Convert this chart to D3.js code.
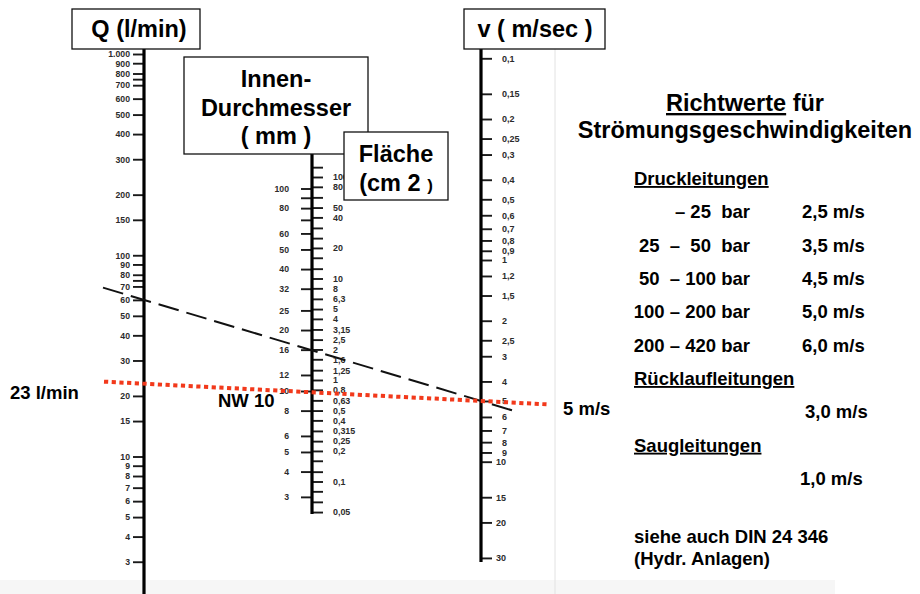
<!DOCTYPE html>
<html><head><meta charset="utf-8">
<script src="https://cdn.jsdelivr.net/npm/d3@7/dist/d3.min.js"></script>
<style>
body{margin:0;background:#fff}
svg{display:block;font-family:"Liberation Sans",Arial,Helvetica,sans-serif}
</style>
</head><body><div id="chart"></div>
<script>
// ---------- DATA ----------
const qTickValues = [1000,900,800,750,700,600,500,400,300,200,150,100,90,80,75,70,60,50,40,30,20,15,10,9,8,7,6,5,4,3];
const qTickLabels = ["1.000","900","800","","700","600","500","400","300","200","150","100","90","80","","70","60","50","40","30","20","15","10","9","8","7","6","5","4","3"];

const dTickValues = [100,90,80,70,60,50,40,32,25,20,16,12,10,8,6,5,4,3];
const dTickLabels = ["100","","80","","60","50","40","32","25","20","16","12","10","8","6","5","4","3"];

const aTickValues = [125,100,80,63,50,40,31.5,25,20,16,12.5,10,8,6.3,5,4,3.15,2.5,2,1.6,1.25,1,0.8,0.63,0.5,0.4,0.315,0.25,0.2,0.16,0.125,0.1,0.08,0.063,0.05];
const aTickLabels = ["","100","80","","50","40","","","20","","","10","8","6,3","5","4","3,15","2,5","2","1,6","1,25","1","0,8","0,63","0,5","0,4","0,315","0,25","0,2","","","0,1","","","0,05"];

const vTickValues = [0.1,0.15,0.2,0.25,0.3,0.4,0.5,0.6,0.7,0.8,0.9,1,1.2,1.5,2,2.5,3,4,5,6,7,8,9,10,15,20,30];
const vTickLabels = ["0,1","0,15","0,2","0,25","0,3","0,4","0,5","0,6","0,7","0,8","0,9","1","1,2","1,5","2","2,5","3","4","5","6","7","8","9","10","15","20","30"];

// example readings (Q in l/min, v in m/s)
const exampleDashedQ = 60, exampleDashedV = 5;
const exampleRedQ = 23, exampleRedV = 5;

const axisTitles = ["Q (l/min)", "v ( m/sec )"];
const diameterTitle = ["Innen-", "Durchmesser", "( mm )"];
const areaTitle = ["Fläche", "(cm 2 "];

const headingLines = ["Richtwerte", " für", "Strömungsgeschwindigkeiten"];
const pressureRanges = ["– 25  bar", "25  –  50  bar", "50  – 100 bar", "100 – 200 bar", "200 – 420 bar"];
const pressureSpeeds = ["2,5 m/s", "3,5 m/s", "4,5 m/s", "5,0 m/s", "6,0 m/s"];
const returnTitle = "Rücklaufleitungen", returnSpeed = "3,0 m/s";
const suctionTitle = "Saugleitungen", suctionSpeed = "1,0 m/s";
const pressureTitle = "Druckleitungen";
const noteLines = ["siehe auch DIN 24 346", "(Hydr. Anlagen)"];
const annotQ = "23 l/min", annotD = "NW 10", annotV = "5 m/s";

// ---------- LAYOUT ----------
const W = 920, H = 594;
const xQ = 144, xD = 312, xV = 481;

const yQ = d3.scaleLog().domain([1000, 10]).range([54, 456.5]);
const yD = d3.scaleLog().domain([100, 10]).range([188.5, 391]);
const yA = d3.scaleLog().domain([100, 1]).range([177, 380]);
const yV = d3.scaleLog().domain([0.1, 10]).range([58.3, 461.7]);

const svg = d3.select("#chart").append("svg").attr("width", W).attr("height", H);
svg.append("rect").attr("width", W).attr("height", H).attr("fill", "#fff");

// faint scan artifacts
svg.append("rect").attr("x", 0).attr("y", 580).attr("width", 835).attr("height", 14).attr("fill", "#f6f6f6");
svg.append("line").attr("x1", 555).attr("x2", 555).attr("y1", 45).attr("y2", H)
  .attr("stroke", "#e2e2e2").attr("stroke-width", 1);

const tickColor = "#1a1a1a", labColor = "#2b2b2b";

function styleAxis(g, fs) {
  g.select(".domain").remove();
  g.selectAll(".tick line").attr("stroke", tickColor).attr("stroke-width", 1.9);
  g.selectAll(".tick text").attr("fill", labColor).attr("font-size", fs)
    .attr("font-weight", "bold").attr("font-family", "'Liberation Sans',Arial,sans-serif");
}

// Q axis
const gQ = svg.append("g").attr("transform", `translate(${xQ},0)`)
  .call(d3.axisLeft(yQ).tickValues(qTickValues).tickSize(11).tickPadding(3)
    .tickFormat((d, i) => qTickLabels[i]));
styleAxis(gQ, 8.7);
svg.append("line").attr("x1", xQ).attr("x2", xQ).attr("y1", 48).attr("y2", H)
  .attr("stroke", "#000").attr("stroke-width", 3.2);

// Diameter axis (left) and area axis (right)
const gD = svg.append("g").attr("transform", `translate(${xD},0)`)
  .call(d3.axisLeft(yD).tickValues(dTickValues).tickSize(11).tickPadding(12)
    .tickFormat((d, i) => dTickLabels[i]));
styleAxis(gD, 8.7);
const gA = svg.append("g").attr("transform", `translate(${xD},0)`)
  .call(d3.axisRight(yA).tickValues(aTickValues).tickSize(11).tickPadding(10)
    .tickFormat((d, i) => aTickLabels[i]));
styleAxis(gA, 8.9);
svg.append("line").attr("x1", xD).attr("x2", xD).attr("y1", 154).attr("y2", 514)
  .attr("stroke", "#000").attr("stroke-width", 3.2);

// Velocity axis
const gV = svg.append("g").attr("transform", `translate(${xV},0)`)
  .call(d3.axisRight(yV).tickValues(vTickValues).tickSize(11).tickPadding(10)
    .tickFormat((d, i) => vTickLabels[i]));
styleAxis(gV, 9);
gV.selectAll(".tick text").filter(d => d >= 10).attr("x", 15);
svg.append("line").attr("x1", xV).attr("x2", xV).attr("y1", 48).attr("y2", 562)
  .attr("stroke", "#000").attr("stroke-width", 3.2);

// Title boxes
function box(x, y, w, h) {
  svg.append("rect").attr("x", x).attr("y", y).attr("width", w).attr("height", h)
    .attr("fill", "#fff").attr("stroke", "#111").attr("stroke-width", 1.3);
}
const titleFont = 23.5;
box(72, 9, 128, 40);
svg.append("text").attr("x", 139).attr("y", 37).attr("text-anchor", "middle")
  .attr("font-size", titleFont).attr("font-weight", "bold").text(axisTitles[0]);
box(464, 9, 141, 40);
svg.append("text").attr("x", 535).attr("y", 37).attr("text-anchor", "middle")
  .attr("font-size", titleFont).attr("font-weight", "bold").text(axisTitles[1]);

box(184, 57, 184, 97);
diameterTitle.forEach((t, i) => {
  svg.append("text").attr("x", 276).attr("y", 87 + i * 28.5).attr("text-anchor", "middle")
    .attr("font-size", titleFont).attr("font-weight", "bold").style("white-space", "pre").text(t);
});
box(344, 132, 104, 68);
svg.append("text").attr("x", 396).attr("y", 162).attr("text-anchor", "middle")
  .attr("font-size", titleFont).attr("font-weight", "bold").text(areaTitle[0]);
const at = svg.append("text").attr("x", 396).attr("y", 191).attr("text-anchor", "middle")
  .attr("font-size", titleFont).attr("font-weight", "bold").style("white-space", "pre");
at.append("tspan").text(areaTitle[1]);
at.append("tspan").attr("font-size", 17).text(")");

// Example lines through scales
function exampleLine(q, v, x0, x1) {
  const ya = yQ(q), yb = yV(v);
  const slope = (yb - ya) / (xV - xQ);
  return [[x0, ya + (x0 - xQ) * slope], [x1, ya + (x1 - xQ) * slope]];
}
const dashed = exampleLine(exampleDashedQ, exampleDashedV, 103, 519);
svg.append("line").attr("x1", dashed[0][0]).attr("y1", dashed[0][1])
  .attr("x2", dashed[1][0]).attr("y2", dashed[1][1])
  .attr("stroke", "#111").attr("stroke-width", 2).attr("stroke-dasharray", "21,8");

const red = exampleLine(exampleRedQ, exampleRedV, 104, 549);
svg.append("line").attr("x1", red[0][0]).attr("y1", red[0][1])
  .attr("x2", red[1][0]).attr("y2", red[1][1])
  .attr("stroke", "#f2391b").attr("stroke-width", 4).attr("stroke-dasharray", "4.2,3.5");

// Annotations
const annFont = 18.5;
svg.append("text").attr("x", 10).attr("y", 399).attr("font-size", annFont).attr("font-weight", "bold").text(annotQ);
svg.append("text").attr("x", 218).attr("y", 407).attr("font-size", annFont).attr("font-weight", "bold").text(annotD);
svg.append("text").attr("x", 563).attr("y", 415).attr("font-size", annFont).attr("font-weight", "bold").text(annotV);

// Right panel
const hFont = 23.5;
const h1 = svg.append("text").attr("x", 745).attr("y", 111).attr("text-anchor", "middle")
  .attr("font-size", hFont).attr("font-weight", "bold").style("white-space", "pre");
h1.append("tspan").attr("text-decoration", "underline").text(headingLines[0]);
h1.append("tspan").text(headingLines[1]);
svg.append("text").attr("x", 745).attr("y", 138).attr("text-anchor", "middle")
  .attr("font-size", hFont).attr("font-weight", "bold").text(headingLines[2]);

const rFont = 18.5;
function rtext(x, y, t, anchor, underline) {
  const el = svg.append("text").attr("x", x).attr("y", y).attr("font-size", rFont)
    .attr("font-weight", "bold").attr("text-anchor", anchor || "start").style("white-space", "pre").text(t);
  if (underline) el.attr("text-decoration", "underline");
  return el;
}
rtext(634, 185, pressureTitle, "start", true);
pressureRanges.forEach((t, i) => {
  rtext(750, 218.3 + i * 33.35, t, "end");
  rtext(802, 218.3 + i * 33.35, pressureSpeeds[i], "start");
});
rtext(634, 385, returnTitle, "start", true);
rtext(805, 418.3, returnSpeed);
rtext(634, 451.7, suctionTitle, "start", true);
rtext(800, 485, suctionSpeed);
rtext(634, 543.3, noteLines[0]);
rtext(634, 565, noteLines[1]);
</script>
</body></html>
